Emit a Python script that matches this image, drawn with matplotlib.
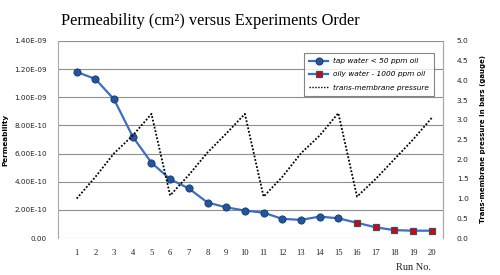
import numpy as np
import matplotlib

matplotlib.use("Agg")
import matplotlib.pyplot as plt
from matplotlib.lines import Line2D
from matplotlib.ticker import FixedLocator

# data
runs = list(range(1, 21))
perm_tap = [1.18e-9, 1.13e-9, 0.985e-9, 0.72e-9, 5.35e-10, 4.18e-10, 3.52e-10,
            2.52e-10, 2.18e-10, 1.95e-10, 1.80e-10, 1.36e-10, 1.29e-10,
            1.52e-10, 1.40e-10]
perm_oily = [1.08e-10, 0.76e-10, 0.56e-10, 0.52e-10, 0.52e-10]
pressure = [1.0, 1.55, 2.15, 2.6, 3.15, 1.08, 1.6, 2.17, 2.65, 3.15,
            1.05, 1.55, 2.15, 2.6, 3.17, 1.05, 1.5, 2.0, 2.5, 3.05]
left_ticks = [0.0, 2e-10, 4e-10, 6e-10, 8e-10, 1.0e-9, 1.2e-9, 1.4e-9]
left_labels = ["0.00", "2.00E-10", "4.00E-10", "6.00E-10", "8.00E-10",
               "1.00E-09", "1.20E-09", "1.40E-09"]
right_ticks = [0.0, 0.5, 1.0, 1.5, 2.0, 2.5, 3.0, 3.5, 4.0, 4.5, 5.0]

LINE_BLUE = "#3b70c0"
DOT_BLUE = "#22559e"
DOT_EDGE = "#173a6c"
SQ_RED = "#e00000"
GRID = "#8e8e8e"

fig = plt.figure(figsize=(5.0, 2.75), dpi=100)
ax = fig.add_axes([0.116, 0.1345, 0.77, 0.7165])

n_tap = len(perm_tap)
perm_all = perm_tap + perm_oily
ax.plot(runs, perm_all, color=LINE_BLUE, lw=1.6, zorder=3,
        solid_capstyle="round")
ax.plot(runs[:n_tap], perm_tap, ls="none", marker="o", ms=5.2,
        mfc=DOT_BLUE, mec=DOT_EDGE, mew=0.6, zorder=4)
ax.plot(runs[n_tap:], perm_oily, ls="none", marker="s", ms=5.0,
        mfc=SQ_RED, mec="#34507a", mew=0.9, zorder=4)

ax.set_xlim(0.0, 20.6)
ax.set_ylim(0, 1.4e-9)
ax.yaxis.set_major_locator(FixedLocator(left_ticks))
ax.set_yticklabels(left_labels)
ax.set_xticks(runs)
ax.set_xticklabels([str(r) for r in runs], family="Liberation Serif",
                   fontsize=6.2)
ax.tick_params(axis="y", length=0, pad=8, labelsize=5.2, labelcolor="#222222")
ax.tick_params(axis="x", length=0, pad=8, labelcolor="#222222")
ax.grid(axis="y", color=GRID, lw=0.8)
ax.set_axisbelow(True)
for s in ("top", "bottom"):
    ax.spines[s].set_visible(False)
for s in ("left", "right"):
    ax.spines[s].set_color("#a8a8a8")
    ax.spines[s].set_linewidth(0.8)
ax.set_ylabel("Permeability", fontsize=5.2, fontweight="bold")
ax.yaxis.set_label_coords(-0.128, 0.5)

ax2 = ax.twinx()
ax2.plot(runs, pressure, color="black", lw=1.3, ls=(0, (1, 1.0)), zorder=5)
ax2.set_ylim(0, 5.0)
ax2.yaxis.set_major_locator(FixedLocator(right_ticks))
ax2.set_yticklabels([f"{v:.1f}" for v in right_ticks])
ax2.tick_params(axis="y", length=0, pad=10, labelsize=5.4, labelcolor="#222222")
for s in ("top", "bottom", "left"):
    ax2.spines[s].set_visible(False)
ax2.spines["right"].set_color("#a8a8a8")
ax2.spines["right"].set_linewidth(0.8)
ax2.set_ylabel("Trans-membrane pressure in bars (gauge)", fontsize=5.0,
               fontweight="bold", rotation=90)
ax2.yaxis.set_label_coords(1.095, 0.5)

handles = [
    Line2D([], [], color=LINE_BLUE, lw=1.6, marker="o", ms=5.2,
           mfc=DOT_BLUE, mec=DOT_EDGE, mew=0.6),
    Line2D([], [], color=LINE_BLUE, lw=1.6, marker="s", ms=5.0,
           mfc=SQ_RED, mec="#34507a", mew=0.9),
    Line2D([], [], color="black", lw=1.0, ls=(0, (1, 1.1))),
]
labels = ["tap water < 50 ppm oil", "oily water - 1000 ppm oil",
          "trans-membrane pressure"]
leg = fig.legend(handles, labels, loc="upper left",
                 bbox_to_anchor=(304 / 500, 1 - 53 / 275),
                 prop={"size": 5.3, "style": "italic"}, frameon=True,
                 fancybox=False, handlelength=2.6, handletextpad=0.6,
                 labelspacing=0.95, borderpad=0.7, borderaxespad=0)
leg.get_frame().set_edgecolor("#666666")
leg.get_frame().set_linewidth(0.8)

fig.text(61 / 500, 1 - 25 / 275, "Permeability (cm²) versus Experiments Order",
         family="Liberation Serif", fontsize=11.8, ha="left", va="baseline")
fig.text(396 / 500, 1 - 270 / 275, "Run No.", family="Liberation Serif",
         fontsize=7.5, ha="left", va="baseline", color="#222222")

fig.savefig("out.png", dpi=100)
